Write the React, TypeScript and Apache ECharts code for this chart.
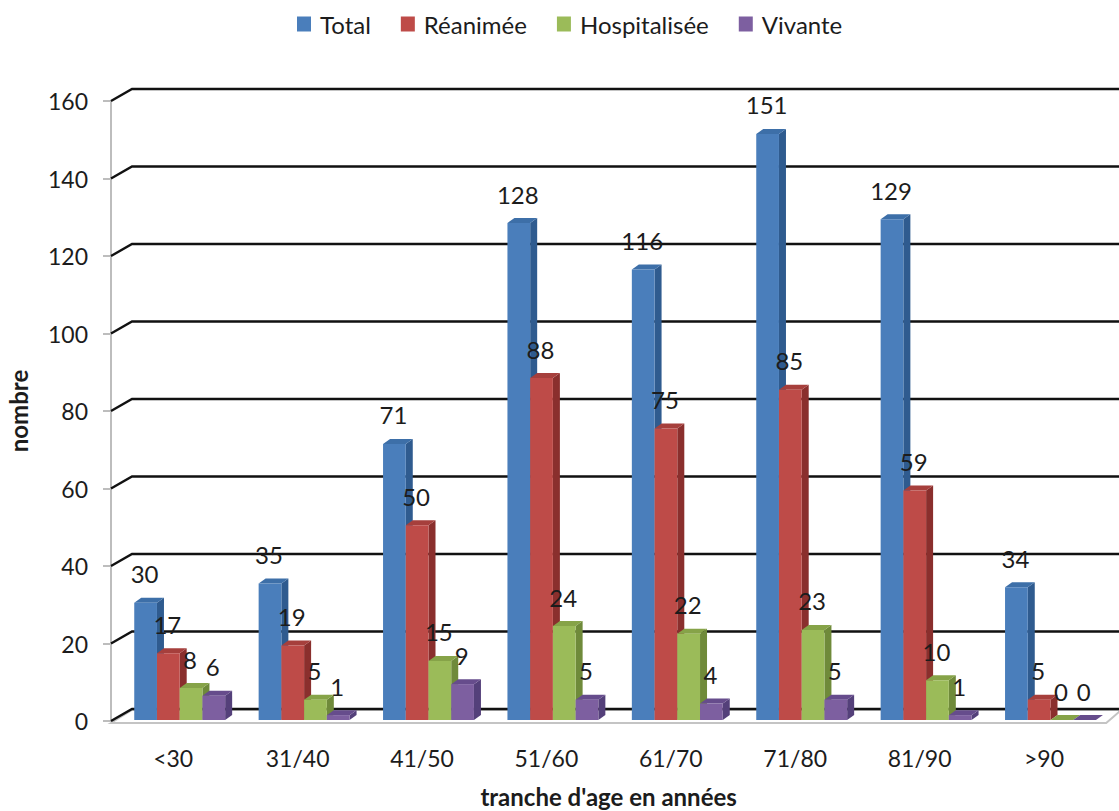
import React, { useEffect, useRef } from "react";
import * as echarts from "echarts";

const categories = ["<30", "31/40", "41/50", "51/60", "61/70", "71/80", "81/90", ">90"];
const total = [30, 35, 71, 128, 116, 151, 129, 34];
const reanimee = [17, 19, 50, 88, 75, 85, 59, 5];
const hospitalisee = [8, 5, 15, 24, 22, 23, 10, 0];
const vivante = [6, 1, 9, 5, 4, 5, 1, 0];
const ticks = [0, 20, 40, 60, 80, 100, 120, 140, 160];

const FONT = "Lato, Carlito, 'Open Sans', sans-serif";
const TEXT = "#1c1c1c";

function shade(front: string, side: string, top: string) {
  return { front, side, top };
}

const palette = [
  shade("#4a7ebb", "#2f5b8f", "#3d6fa8"),
  shade("#be4b48", "#8a2f2d", "#a63f3c"),
  shade("#9bbb59", "#6f8a3a", "#86a348"),
  shade("#7d5fa0", "#54407a", "#664c8c"),
];

function barSeries(name: string, values: number[], idx: number) {
  const c = palette[idx];
  return {
    type: "custom",
    name,
    itemStyle: { color: c.front },
    encode: { x: 0, y: 1 },
    clip: false,
    data: values.map((v, i) => [i, v]),
    renderItem: (_p: any, api: any) => {
      const cat = api.value(0);
      const val = api.value(1);
      const band = api.size([1, 0])[0];
      const w = band * 0.1827;
      const [cx, ty0] = api.coord([cat, val]);
      const [, by0] = api.coord([cat, 0]);
      const shift = 6.5;
      const x0 = cx + shift + (idx - 2) * w;
      const x1 = x0 + w;
      const by = by0 - 1;
      const ty = val === 0 ? by : ty0 - 2;
      const dx = 7;
      const dy = 5;
      return {
        type: "group",
        children: [
          { type: "polygon", shape: { points: [[x1, ty], [x1 + dx, ty - dy], [x1 + dx, by - dy], [x1, by]] }, style: { fill: c.side } },
          { type: "polygon", shape: { points: [[x0, ty], [x0 + dx, ty - dy], [x1 + dx, ty - dy], [x1, ty]] }, style: { fill: c.top } },
          { type: "rect", shape: { x: x0, y: ty, width: w, height: by - ty }, style: { fill: c.front } },
          {
            type: "text",
            z2: 100,
            style: {
              text: String(val),
              x: x0 + w / 2 - 1,
              y: ty - 29,
              align: "center",
              verticalAlign: "middle",
              fontSize: 24,
              fontFamily: FONT,
              fill: TEXT,
            },
          },
        ],
      };
    },
  };
}

const wallSeries = {
  type: "custom",
  name: "wall",
  silent: true,
  clip: false,
  encode: { x: 0, y: 1 },
  data: ticks.map((t) => [0, t]),
  renderItem: (p: any, api: any) => {
    const [, y] = api.coord([0, api.value(1)]);
    const left = p.coordSys.x;
    const right = left + p.coordSys.width;
    const kids: any[] = [];
    if (api.value(1) === 0) {
      kids.push({
        type: "polygon",
        shape: { points: [[left, y + 2], [left + 21, y - 11], [1119, y - 11], [1119, y - 9], [right, y + 2]] },
        style: { fill: "#ffffff", stroke: "#c4c4c4", lineWidth: 2 },
      });
    }
    kids.push({
      type: "polyline",
      shape: { points: [[left, y], [left + 21, y - 12], [1119, y - 12]] },
      style: { fill: "none", stroke: "#111111", lineWidth: 2.4 },
    });
    return { type: "group", children: kids };
  },
};

export default function App() {
  const ref = useRef<HTMLDivElement>(null);
  useEffect(() => {
    const chart = echarts.init(ref.current!, undefined, { renderer: "svg" });
    chart.setOption({
      animation: false,
      backgroundColor: "#ffffff",
      grid: { left: 111, top: 101, width: 995.2, height: 620, outerBoundsMode: "none" },
      legend: {
        data: ["Total", "Réanimée", "Hospitalisée", "Vivante"],
        left: 297,
        top: 12,
        padding: 0,
        icon: "rect",
        itemWidth: 14,
        itemHeight: 15,
        itemGap: 30,
        textStyle: { fontFamily: FONT, fontSize: 24, color: TEXT, padding: [0, 0, 0, 4] },
      },
      xAxis: {
        type: "category",
        data: categories,
        name: "tranche d'age en années",
        nameLocation: "middle",
        nameGap: 63,
        nameTextStyle: { fontFamily: FONT, fontSize: 24, fontWeight: "bold", color: TEXT },
        axisLine: { show: false },
        axisTick: { show: false },
        axisLabel: { margin: 25, fontFamily: FONT, fontSize: 23, color: TEXT, interval: 0 },
      },
      yAxis: {
        type: "value",
        min: 0,
        max: 160,
        interval: 20,
        name: "nombre",
        nameLocation: "middle",
        nameGap: 81,
        nameTextStyle: { fontFamily: FONT, fontSize: 24, fontWeight: "bold", color: TEXT },
        axisLine: { show: true, lineStyle: { color: "#bdbdbd", width: 2 } },
        axisTick: { show: true, length: 8, lineStyle: { color: "#bdbdbd", width: 2 } },
        axisLabel: { margin: 23, fontFamily: FONT, fontSize: 23, color: TEXT },
        splitLine: { show: false },
      },
      series: [
        wallSeries,
        barSeries("Total", total, 0),
        barSeries("Réanimée", reanimee, 1),
        barSeries("Hospitalisée", hospitalisee, 2),
        barSeries("Vivante", vivante, 3),
      ],
    });
    return () => chart.dispose();
  }, []);
  return <div ref={ref} style={{ position: "absolute", left: 0, top: 0, width: 1119, height: 811 }} />;
}
